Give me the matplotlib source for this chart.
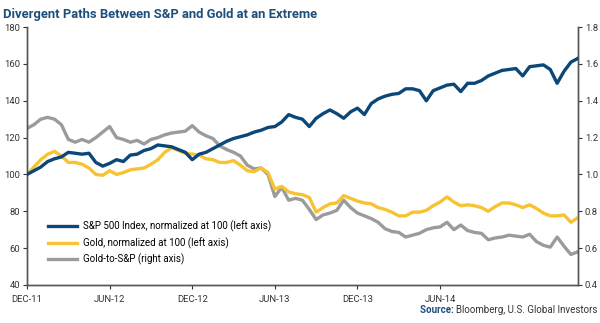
import numpy as np
import matplotlib
matplotlib.use("Agg")
import matplotlib.pyplot as plt

plt.rcParams['font.family'] = ['Roboto', 'DejaVu Sans']

# months since Dec 2011, half-month steps
months = np.arange(0, 40.5, 0.5)

sp500 = [100, 102, 104, 107, 108.5, 109.5, 112, 111.5, 111, 111.5,
         106.5, 104.5, 106, 108, 107, 110.5, 111, 113, 114, 116,
         115.5, 115, 113.5, 112, 108, 111, 112, 114, 116, 118,
         119.5, 120.5, 121.5, 123, 124, 125.5, 126, 128.5, 132.5, 131,
         130, 126, 130.5, 133, 135, 133, 130.5, 134, 136, 132.5,
         138.5, 141, 142.5, 143.5, 144, 146.5, 146.5, 145.5, 140, 145.5,
         147, 148.5, 149, 145, 149.5, 149.5, 151, 153.5, 155, 156.5,
         157, 157.5, 153.5, 158.5, 159, 159.5, 157, 149.5, 156, 161, 163]

gold = [100, 104, 108, 111, 112.5, 110, 106.5, 106.5, 105.5, 103.5,
        100, 99.5, 102, 100, 101, 102.5, 103, 103.5, 105.5, 108,
        112, 114.5, 113, 111.5, 111, 110.5, 108.5, 108, 106.5, 106.5,
        107.5, 105, 102, 101.5, 103.5, 101, 92, 93.5, 90.5, 89.5,
        89, 87.5, 79.5, 82, 84, 84.5, 88.5, 87, 85.5, 84.5,
        84, 82, 81, 79.5, 77.5, 77.5, 79.5, 79.5, 80.5, 83,
        85, 87.8, 85, 83, 83.5, 83, 82, 80, 82.5, 84.5,
        84.5, 83.5, 82, 83.5, 81.5, 79, 77.5, 77.5, 78, 74, 76.5]

ratio = [1.25, 1.27, 1.30, 1.31, 1.30, 1.27, 1.19, 1.175, 1.19, 1.175,
         1.20, 1.23, 1.26, 1.20, 1.19, 1.175, 1.185, 1.165, 1.19, 1.20,
         1.215, 1.225, 1.23, 1.235, 1.265, 1.23, 1.21, 1.195, 1.155, 1.135,
         1.12, 1.10, 1.05, 1.03, 1.035, 1.00, 0.88, 0.93, 0.86, 0.87,
         0.86, 0.81, 0.755, 0.78, 0.79, 0.805, 0.86, 0.82, 0.79, 0.775,
         0.76, 0.74, 0.705, 0.69, 0.685, 0.66, 0.67, 0.68, 0.70, 0.71,
         0.715, 0.74, 0.70, 0.725, 0.695, 0.685, 0.68, 0.645, 0.655, 0.66,
         0.67, 0.665, 0.66, 0.675, 0.635, 0.615, 0.605, 0.66, 0.61, 0.565, 0.58]

tick_pos = [0, 6, 12, 18, 24, 30]
tick_labels = ["DEC-11", "JUN-12", "DEC-12", "JUN-13", "DEC-13", "JUN-14"]

blue = "#0b4778"
yellow = "#f7c332"
grey = "#9b9b9b"
axcol = "#555555"
titlecol = "#1d4f7c"

fig = plt.figure(figsize=(6, 3.23), dpi=100)
ax = fig.add_axes([0.045, 0.118, 0.918, 0.798])
ax2 = ax.twinx()

l1, = ax.plot(months, sp500, color=blue, lw=2.4, zorder=3)
l2, = ax.plot(months, gold, color=yellow, lw=2.4, zorder=2)
l3, = ax2.plot(months, ratio, color=grey, lw=2.4)
ax.set_zorder(ax2.get_zorder() + 1)
ax.patch.set_visible(False)

ax.set_xlim(0, 40)
ax.set_ylim(40, 180)
ax2.set_ylim(0.4, 1.8)
ax.set_yticks(range(40, 181, 20))
ax2.set_yticks(np.arange(0.4, 1.81, 0.2))
ax2.set_yticklabels([f"{v:.1f}" for v in np.arange(0.4, 1.81, 0.2)])
ax.set_xticks(tick_pos)
ax.set_xticklabels(tick_labels)

for a in (ax, ax2):
    a.spines['top'].set_visible(False)
    for s in ('left', 'right', 'bottom'):
        a.spines[s].set_color(axcol)
        a.spines[s].set_linewidth(1)
    a.tick_params(colors="#333333", labelsize=6.8, length=3, width=0.8, pad=2)
ax.tick_params(axis='x', pad=4)

ax.legend([l1, l2, l3],
          ["S&P 500 Index, normalized at 100 (left axis)",
           "Gold, normalized at 100 (left axis)",
           "Gold-to-S&P (right axis)"],
          loc="lower left", bbox_to_anchor=(0.025, 0.05), frameon=False,
          fontsize=7, handlelength=3.0, handletextpad=0.6,
          labelspacing=0.5, borderpad=0.2)

fig.text(0.005, 0.975, "Divergent Paths Between S&P and Gold at an Extreme",
         fontsize=9.4, fontweight="bold", color=titlecol, va="top")
t = fig.text(0.995, 0.03, "Bloomberg, U.S. Global Investors", fontsize=7,
             color="#333333", ha="right")
fig.canvas.draw()
bb = t.get_window_extent()
fig.text(bb.x0 / fig.bbox.width, 0.03, "Source: ", fontsize=7,
         fontweight="bold", color=titlecol, ha="right")

fig.savefig("out.png", dpi=100)
